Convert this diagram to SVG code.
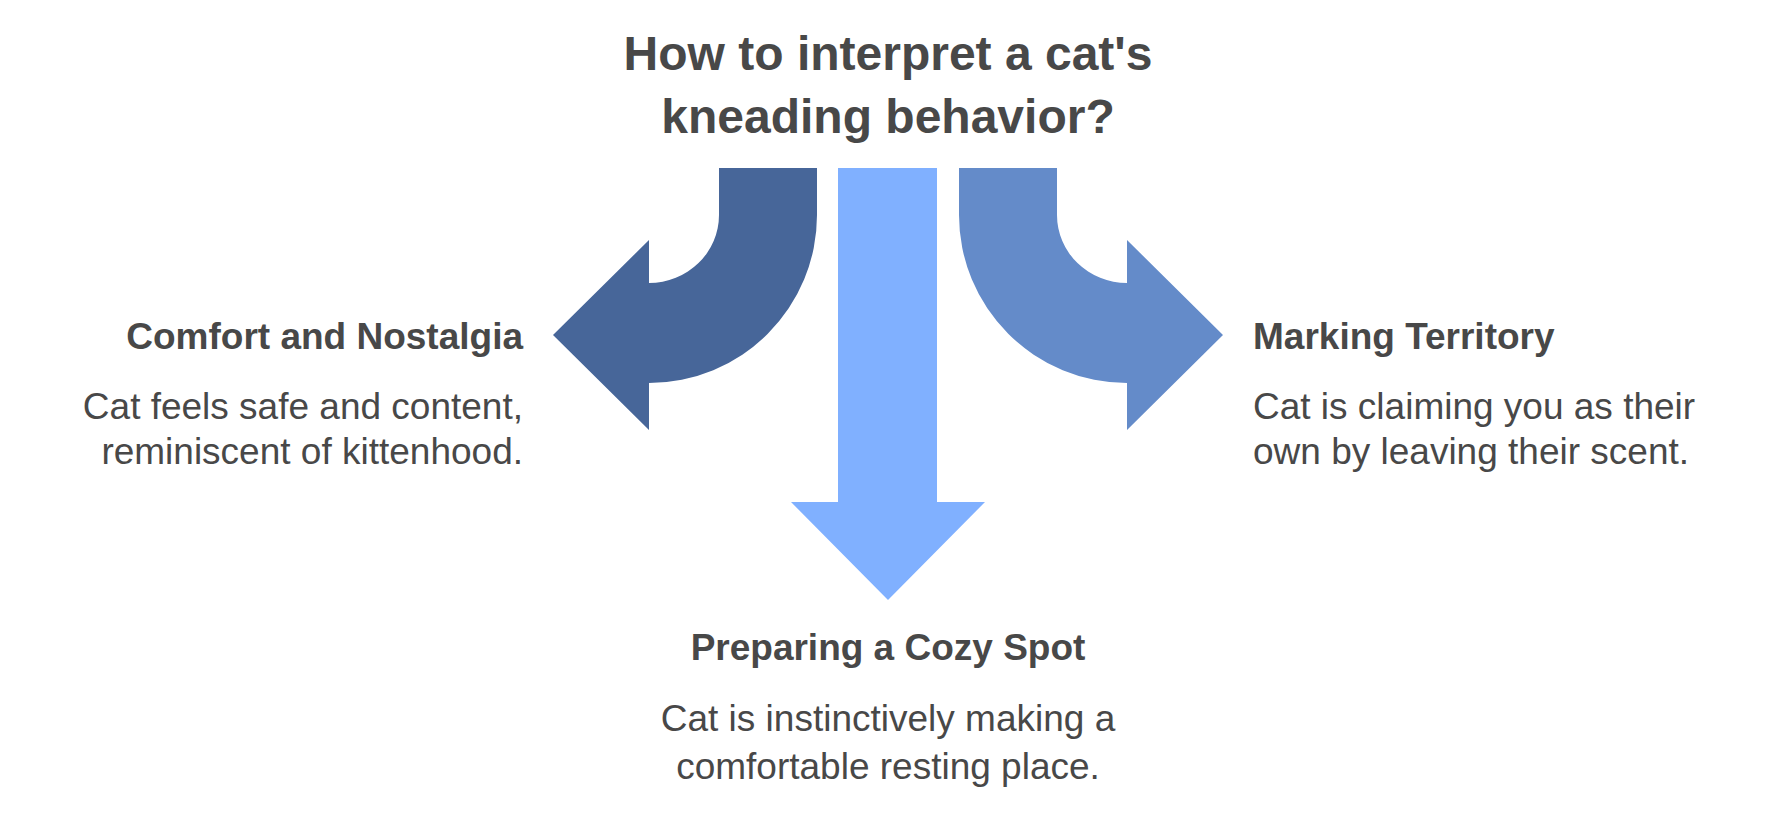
<svg xmlns="http://www.w3.org/2000/svg" width="1776" height="816" viewBox="0 0 1776 816">
<style>
text{font-family:"Liberation Sans",Arial,sans-serif;fill:#484848}
.t{font-size:48px;font-weight:bold;text-anchor:middle}
.h{font-size:37px;font-weight:bold}
.b{font-size:37px}
</style>
<rect width="1776" height="816" fill="#fff"/>
<g id="title"><text class="t" x="888" y="70">How to interpret a cat's</text><text class="t" x="888" y="133">kneading behavior?</text></g>
<g id="connectors">
<path id="arrow-left" fill="#476699" d="M719,168 H817 V215 A168,168 0 0 1 649,383 V430 L553,335 L649,240 V283 A70,68 0 0 0 719,215 Z"/>
<path id="arrow-center" fill="#80b0ff" d="M838,168 H937 V502 H985 L888,600 L791,502 H838 Z"/>
<path id="arrow-right" fill="#648bc9" transform="matrix(-1 0 0 1 1776 0)" d="M719,168 H817 V215 A168,168 0 0 1 649,383 V430 L553,335 L649,240 V283 A70,68 0 0 0 719,215 Z"/>
</g>
<g id="node-comfort" text-anchor="end"><text class="h" x="523" y="349">Comfort and Nostalgia</text><text class="b" x="523" y="419">Cat feels safe and content,</text><text class="b" x="523" y="464">reminiscent of kittenhood.</text></g>
<g id="node-territory"><text class="h" x="1253" y="349">Marking Territory</text><text class="b" x="1253" y="419">Cat is claiming you as their</text><text class="b" x="1253" y="464">own by leaving their scent.</text></g>
<g id="node-cozy" text-anchor="middle"><text class="h" x="888" y="660">Preparing a Cozy Spot</text><text class="b" x="888" y="731">Cat is instinctively making a</text><text class="b" x="888" y="779">comfortable resting place.</text></g>
</svg>
